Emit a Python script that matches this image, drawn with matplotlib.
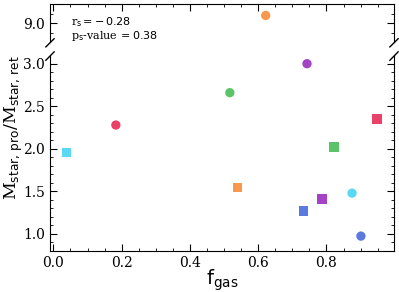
import matplotlib
matplotlib.use("Agg")
import matplotlib.pyplot as plt
from matplotlib.ticker import FormatStrFormatter

plt.rcParams['font.family'] = 'DejaVu Serif'
plt.rcParams['mathtext.fontset'] = 'dejavusans'

# gas fraction vs prograde/retrograde stellar mass ratio
f_gas_circ = [0.183, 0.517, 0.622, 0.743, 0.875, 0.901]
ratio_circ = [2.28, 2.66, 9.08, 3.00, 1.48, 0.975]
col_circ = ["#ea4169", "#5cc468", "#f7984f", "#a543c6", "#5ad9f5", "#5a7ae0"]

f_gas_sq = [0.039, 0.540, 0.732, 0.787, 0.822, 0.948]
ratio_sq = [1.96, 1.55, 1.27, 1.41, 2.02, 2.35]
col_sq = ["#5ad9f5", "#f7984f", "#5a7ae0", "#a543c6", "#5cc468", "#ea4169"]

r_s = -0.28
p_s = 0.38

fig = plt.figure(figsize=(3.99, 2.92), dpi=100)
ax_top = fig.add_axes([0.1253, 0.856, 0.8622, 0.130])
ax_bot = fig.add_axes([0.1253, 0.1404, 0.8622, 0.6676])

for ax in (ax_top, ax_bot):
    ax.scatter(f_gas_circ, ratio_circ, c=col_circ, marker="o", s=45, edgecolors="none", zorder=3)
    ax.scatter(f_gas_sq, ratio_sq, c=col_sq, marker="s", s=45, edgecolors="none", zorder=3)
    ax.set_xlim(-0.01, 0.998)
    ax.minorticks_on()
    ax.tick_params(which="both", direction="in", top=True, right=True, labelsize=10)
    ax.tick_params(which="major", length=5)
    ax.tick_params(which="minor", length=2.5)
    ax.yaxis.set_major_formatter(FormatStrFormatter("%.1f"))

ax_top.set_ylim(8.8, 9.2)
ax_top.set_yticks([9.0])
ax_top.set_yticks([8.9, 9.1], minor=True)
ax_top.spines["bottom"].set_visible(False)
ax_top.tick_params(which="both", bottom=False, labelbottom=False)

ax_bot.set_ylim(0.8, 3.09)
ax_bot.set_yticks([1.0, 1.5, 2.0, 2.5, 3.0])
ax_bot.set_xticks([0.0, 0.2, 0.4, 0.6, 0.8])
ax_bot.spines["top"].set_visible(False)
ax_bot.tick_params(which="both", top=False)

# break marks
d = 0.012
kw = dict(color="k", lw=1, clip_on=False)
for x in (0, 1):
    ax_top.plot([x - d, x + d], [-0.02 - 3 * d * 3, -0.02 + 3 * d * 3], transform=ax_top.transAxes, **kw)
    ax_bot.plot([x - d, x + d], [1.0 - 0.6 * d * 3, 1.0 + 0.6 * d * 3], transform=ax_bot.transAxes, **kw)

stats = (r"r$_{\rm s} = -\,%.2f$" % abs(r_s) + "\n"
         + r"p$_{\rm s}$-value$\,= %.2f$" % p_s)
ax_top.text(0.061, 0.07, stats, transform=ax_top.transAxes, fontsize=8,
            va="baseline", linespacing=1.05, clip_on=False)

ax_bot.set_xlabel(r"$\rm f_{gas}$", fontsize=14, labelpad=-2)
fig.text(0.008, 0.563, r"M$_{\rm star,\,pro}$/M$_{\rm star,\,ret}$", rotation=90,
         va="center", ha="left", fontsize=12.5)

fig.savefig("out.png", dpi=100)
